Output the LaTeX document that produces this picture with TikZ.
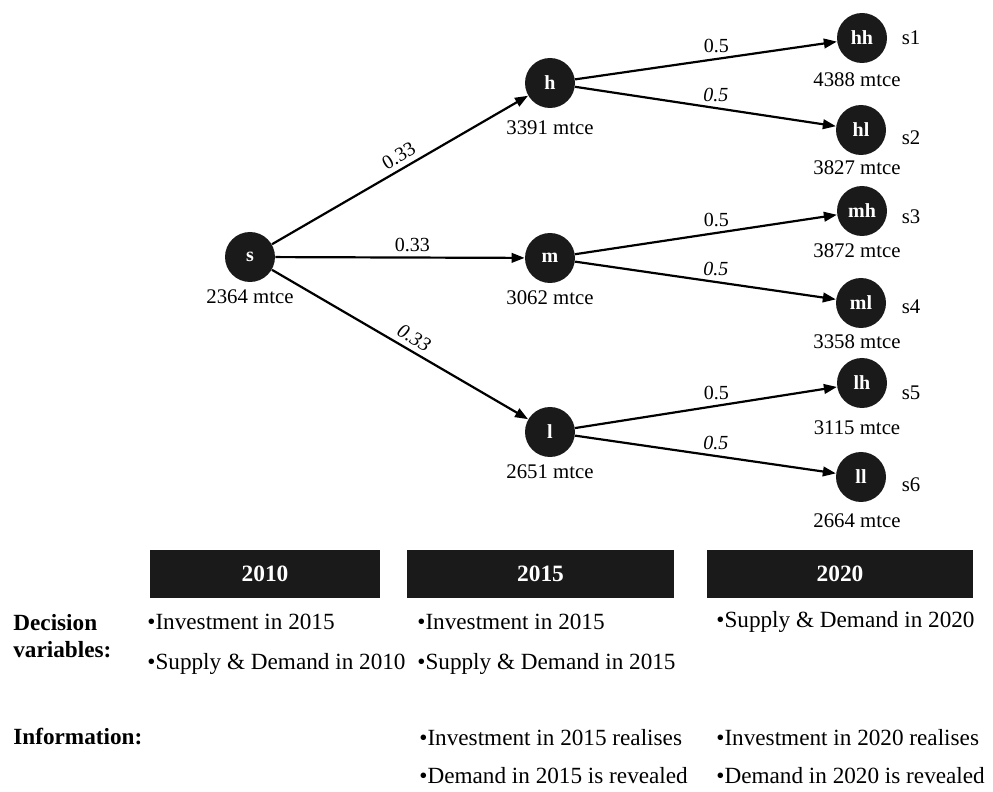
\documentclass[tikz,border=0pt]{standalone}
\usepackage{fontspec}
\setmainfont{Liberation Serif}
\usetikzlibrary{arrows.meta}
\definecolor{treeblack}{HTML}{1A1A1A}

\begin{document}
\begin{tikzpicture}[x=0.5pt,y=-0.5pt,
	state/.style={circle,fill=treeblack,text=white,minimum size=25pt,inner sep=0pt,font=\fontsize{10}{12}\selectfont\bfseries},
	val/.style={font=\fontsize{10.4}{12}\selectfont},
	prob/.style={above,inner sep=2.5pt,font=\fontsize{10}{12}\selectfont},
	branch/.style={line width=1.1pt,-{Triangle[length=6.5pt,width=4.8pt]}},
	yearbox/.style={fill=treeblack,text=white,minimum height=24pt,font=\fontsize{11.7}{14}\selectfont\bfseries},
	item/.style={anchor=west,inner sep=0pt,font=\fontsize{11.6}{14}\selectfont},
	rowhead/.style={anchor=west,inner sep=0pt,align=left,font=\fontsize{11.6}{13.5}\selectfont\bfseries}]
\useasboundingbox (0,0) rectangle (993,792);

% tree
\node[state] (s) at (250,257) {s};
\node[state] (h) at (550,83) {h};
\node[state] (m) at (550,258) {m};
\node[state] (l) at (550,432) {l};
\node[state] (hh) at (862,38) {hh};
\node[state] (hl) at (861,130) {hl};
\node[state] (mh) at (862,211) {mh};
\node[state] (ml) at (861,303) {ml};
\node[state] (lh) at (862,383) {lh};
\node[state] (ll) at (861,477) {ll};

\node[val] (v-s) at (250,297) {2364 mtce};
\node[val] (v-h) at (550,128) {3391 mtce};
\node[val] (v-m) at (550,298) {3062 mtce};
\node[val] (v-l) at (550,472) {2651 mtce};
\node[val] (v-hh) at (857,80) {4388 mtce};
\node[val] (v-hl) at (857,168) {3827 mtce};
\node[val] (v-mh) at (857,251) {3872 mtce};
\node[val] (v-ml) at (857,342) {3358 mtce};
\node[val] (v-lh) at (857,428) {3115 mtce};
\node[val] (v-ll) at (857,521) {2664 mtce};

\node[val] (sc1) at (911,38) {s1};
\node[val] (sc2) at (911,138) {s2};
\node[val] (sc3) at (911,217) {s3};
\node[val] (sc4) at (911,307) {s4};
\node[val] (sc5) at (911,393) {s5};
\node[val] (sc6) at (911,485) {s6};

\draw[branch] (s) -- node[prob,sloped,pos=0.52] {0.33} (h);
\draw[branch] (s) -- node[prob,pos=0.55] {0.33} (m);
\draw[branch] (s) -- node[prob,sloped,pos=0.53,font=\fontsize{10}{12}\selectfont\itshape] {0.33} (l);

\draw[branch] (h) -- node[prob,pos=0.54] {0.5} (hh);
\draw[branch] (h) -- node[prob,pos=0.54,font=\fontsize{10}{12}\selectfont\itshape] {0.5} (hl);
\draw[branch] (m) -- node[prob,pos=0.54] {0.5} (mh);
\draw[branch] (m) -- node[prob,pos=0.54,font=\fontsize{10}{12}\selectfont\itshape] {0.5} (ml);
\draw[branch] (l) -- node[prob,pos=0.54] {0.5} (lh);
\draw[branch] (l) -- node[prob,pos=0.54,font=\fontsize{10}{12}\selectfont\itshape] {0.5} (ll);

% stages
\node[yearbox,minimum width=115pt] (y2010) at (265,574) {2010};
\node[yearbox,minimum width=133.5pt] (y2015) at (540.5,574) {2015};
\node[yearbox,minimum width=133pt] (y2020) at (840,574) {2020};

\node[rowhead] (dec) at (13,636) {Decision\\variables:};
\node[rowhead] (info) at (13,736) {Information:};

\node[item] (d10a) at (147,622) {•Investment in 2015};
\node[item] (d10b) at (147,664) {•Supply \& Demand in 2010};
\node[item] (d15a) at (417,622) {•Investment in 2015};
\node[item] (d15b) at (417,664) {•Supply \& Demand in 2015};
\node[item] (d20a) at (716,622) {•Supply \& Demand in 2020};

\node[item] (i15a) at (419,738) {•Investment in 2015 realises};
\node[item] (i15b) at (419,776) {•Demand in 2015 is revealed};
\node[item] (i20a) at (716,738) {•Investment in 2020 realises};
\node[item] (i20b) at (716,776) {•Demand in 2020 is revealed};
\end{tikzpicture}
\end{document}
